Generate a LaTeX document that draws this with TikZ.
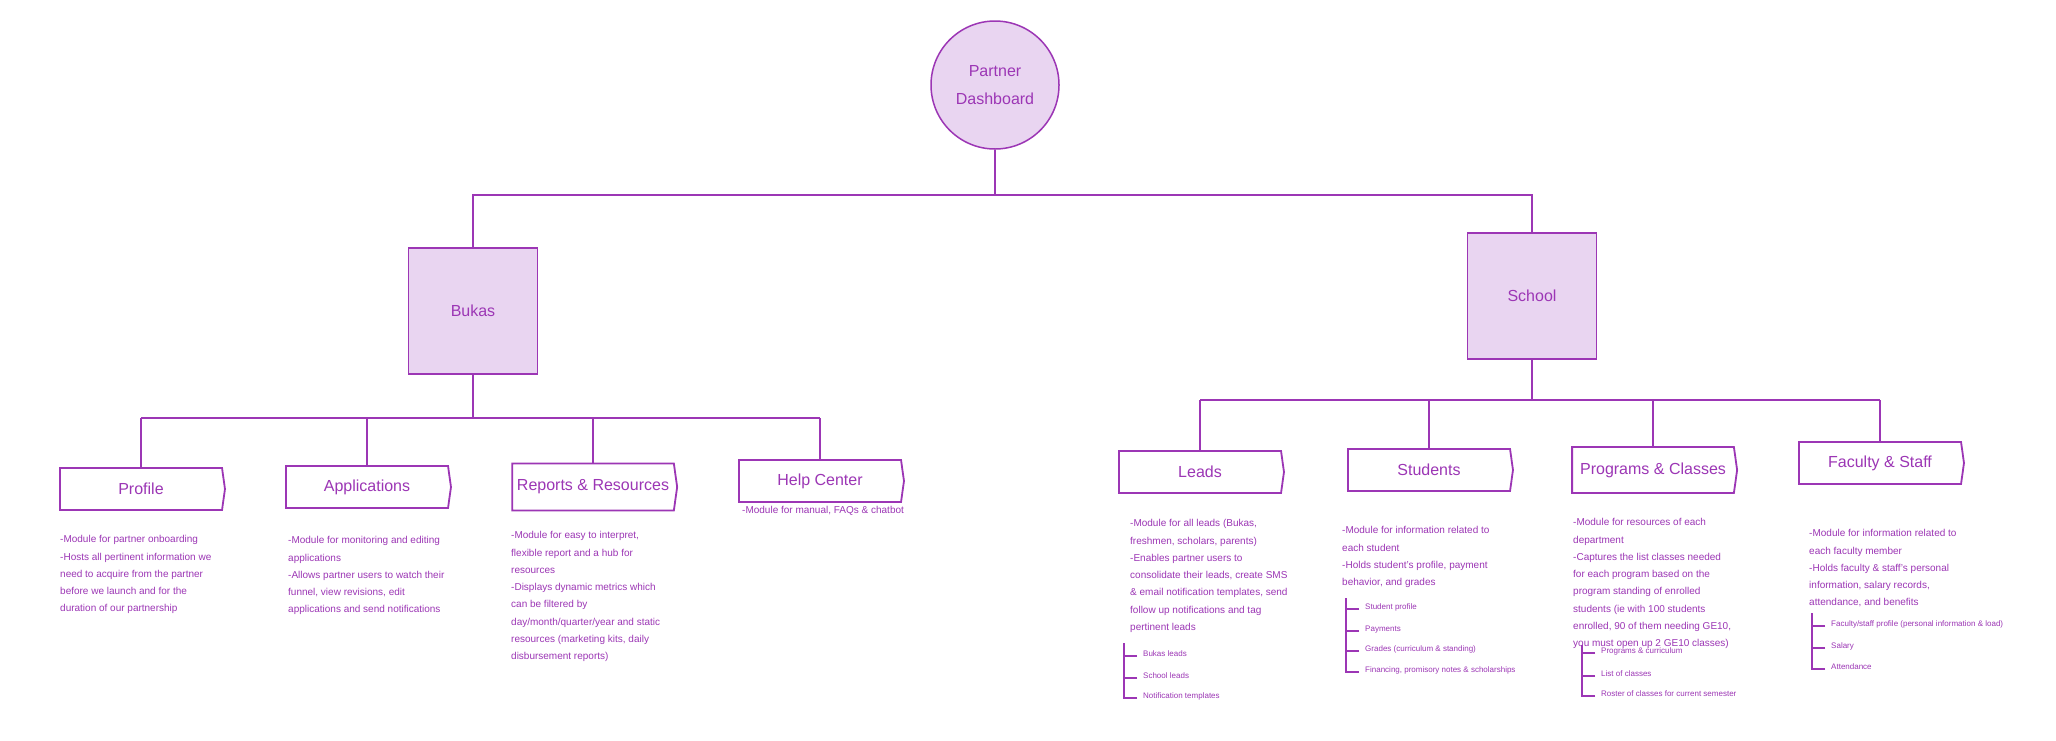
\documentclass[tikz,border=0pt]{standalone}
\usepackage{fontspec}
\setmainfont{Liberation Sans}
\usetikzlibrary{shapes.symbols}
\definecolor{pdviolet}{HTML}{9C36B5}
\definecolor{pdfill}{HTML}{E9D5F1}
\tikzset{
  conn/.style = {draw=pdviolet, line width=1.4pt},
  hubnode/.style = {circle, draw=pdviolet, fill=pdfill, line width=1.5pt,
                    minimum size=128pt, inner sep=0pt, align=center,
                    text=pdviolet, font=\fontsize{16}{28}\selectfont},
  groupbox/.style = {rectangle, draw=pdviolet, fill=pdfill, line width=1.5pt,
                     minimum width=129pt, minimum height=126pt,
                     text=pdviolet, font=\fontsize{16}{19}\selectfont},
  modbox/.style = {signal, signal to=east, signal pointer angle=164,
                   draw=pdviolet, fill=white, line width=1.8pt, inner sep=0pt,
                   minimum width=165pt, minimum height=42pt,
                   text=pdviolet, font=\fontsize{16}{19}\selectfont},
  descr/.style = {anchor=north west, inner sep=0pt, align=left,
                  text=pdviolet, font=\fontsize{10}{17.3}\selectfont},
  leaf/.style = {anchor=base west, inner sep=0pt, text=pdviolet,
                 font=\fontsize{8}{9}\selectfont},
}
\begin{document}
\begin{tikzpicture}[x=1pt, y=-1pt]
  \def\sublist#1#2#3#4{%
    \coordinate (#1-top) at (#2,#3);
    \foreach \yy/\txt [count=\i] in {#4}{
      \node[leaf] (#1-\i) at (#2+19,\yy) {\txt};
      \draw[conn] ([xshift=-6pt]#1-\i.base west) -- (#1-top |- #1-\i.base west)
        -- (#1-top);
    }
  }

  \useasboundingbox[fill=white] (0,0) rectangle (2056,740);

  % top levels
  \node[hubnode] (pd) at (995,85) {Partner\\Dashboard};
  \node[groupbox] (bukas) at (473,311) {Bukas};
  \node[groupbox] (school) at (1532,296) {School};

  \coordinate (topbar) at (995,195);
  \draw[conn] (pd.south) -- (topbar);
  \draw[conn] (bukas.north) |- (topbar) -| (school.north);

  % Bukas modules
  \node[modbox] (profile) at (141,489) {Profile};
  \node[modbox] (applications) at (367,487) {Applications};
  \node[modbox, minimum height=47pt] (reports) at (593,487) {Reports \& Resources};
  \node[modbox] (help) at (820,481) {Help Center};

  \coordinate (bbar) at (473,418);
  \draw[conn] (bukas.south) -- (bbar);
  \draw[conn] (profile.north |- bbar) -- (help.north |- bbar);
  \foreach \m in {profile,applications,reports,help}
    \draw[conn] (\m.north) -- (\m.north |- bbar);

  % School modules
  \node[modbox] (leads) at (1200,472) {Leads};
  \node[modbox] (students) at (1429,470) {Students};
  \node[modbox, minimum height=46pt] (programs) at (1653,470) {Programs \& Classes};
  \node[modbox] (faculty) at (1880,463) {Faculty \& Staff};

  \coordinate (sbar) at (1532,400);
  \draw[conn] (school.south) -- (sbar);
  \draw[conn] (leads.north |- sbar) -- (faculty.north |- sbar);
  \foreach \m in {leads,students,programs,faculty}
    \draw[conn] (\m.north) -- (\m.north |- sbar);

  % descriptions
  \node[descr] (profile-txt) at (60,530.4) {\strut-Module for partner onboarding\\
    -Hosts all pertinent information we\\need to acquire from the partner\\
    before we launch and for the\\duration of our partnership};
  \node[descr] (applications-txt) at (288,531.4) {\strut-Module for monitoring and editing\\
    applications\\-Allows partner users to watch their\\funnel, view revisions, edit\\
    applications and send notifications};
  \node[descr] (reports-txt) at (511,526.4) {\strut-Module for easy to interpret,\\
    flexible report and a hub for\\resources\\-Displays dynamic metrics which\\
    can be filtered by\\day/month/quarter/year and static\\
    resources (marketing kits, daily\\disbursement reports)};
  \node[descr] (help-txt) at (742,501.4) {\strut-Module for manual, FAQs \& chatbot};
  \node[descr] (leads-txt) at (1130,514.4) {\strut-Module for all leads (Bukas,\\
    freshmen, scholars, parents)\\-Enables partner users to\\
    consolidate their leads, create SMS\\\& email notification templates, send\\
    follow up notifications and tag\\pertinent leads};
  \node[descr] (students-txt) at (1342,521.4) {\strut-Module for information related to\\
    each student\\-Holds student's profile, payment\\behavior, and grades};
  \node[descr] (programs-txt) at (1573,513.4) {\strut-Module for resources of each\\
    department\\-Captures the list classes needed\\for each program based on the\\
    program standing of enrolled\\students (ie with 100 students\\
    enrolled, 90 of them needing GE10,\\you must open up 2 GE10 classes)};
  \node[descr] (faculty-txt) at (1809,524.4) {\strut-Module for information related to\\
    each faculty member\\-Holds faculty \& staff's personal\\
    information, salary records,\\attendance, and benefits};

  % sub lists
  \sublist{leads-sub}{1124}{643}{656/Bukas leads, 678/School leads,
    698/Notification templates}
  \sublist{students-sub}{1346}{598}{609/Student profile, 631/Payments,
    651/Grades (curriculum \& standing),
    672/{Financing, promisory notes \& scholarships}}
  \sublist{programs-sub}{1582}{645}{653/Programs \& curriculum,
    676/List of classes, 696/Roster of classes for current semester}
  \sublist{faculty-sub}{1812}{613}{626/{Faculty/staff profile (personal information \& load)},
    648/Salary, 669/Attendance}
\end{tikzpicture}
\end{document}
